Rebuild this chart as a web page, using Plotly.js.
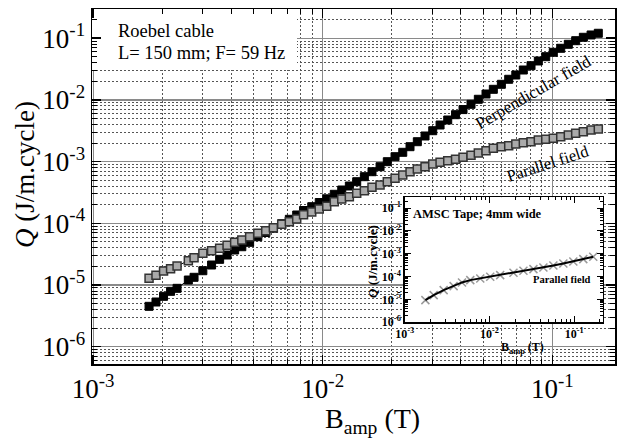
<!DOCTYPE html>
<html>
<head>
<meta charset="utf-8">
<script src="https://cdn.plot.ly/plotly-3.0.1.min.js"></script>
<style>html,body{margin:0;padding:0;background:#fff;}#chart{width:619px;height:443px;}</style>
</head>
<body>
<div id="chart"></div>
<script>
// Field amplitude B_amp (T), shared by both series
const bAmp = [1.752e-3, 1.878e-3, 2.026e-3, 2.174e-3, 2.320e-3, 2.598e-3, 2.751e-3, 3.005e-3, 3.280e-3, 3.556e-3,
  3.831e-3, 4.133e-3, 4.442e-3, 4.804e-3, 5.215e-3, 5.646e-3, 6.094e-3, 6.628e-3, 7.154e-3, 7.703e-3,
  8.249e-3, 8.956e-3, 9.656e-3, 1.041e-2, 1.123e-2, 1.210e-2, 1.306e-2, 1.406e-2, 1.518e-2, 1.639e-2,
  1.777e-2, 1.911e-2, 2.065e-2, 2.231e-2, 2.400e-2, 2.582e-2, 2.790e-2, 3.014e-2, 3.244e-2, 3.503e-2,
  3.789e-2, 4.084e-2, 4.424e-2, 4.761e-2, 5.142e-2, 5.534e-2, 5.998e-2, 6.457e-2, 6.934e-2, 7.476e-2,
  8.076e-2, 8.690e-2, 9.361e-2, 0.1010, 0.1088, 0.1174, 0.1264, 0.1365, 0.1475, 0.1586];
// Q (J/m.cycle), perpendicular field
const qPerp = [4.516e-6, 5.303e-6, 6.560e-6, 7.905e-6, 8.84e-6, 1.205e-5, 1.333e-5, 1.705e-5, 2.110e-5, 2.609e-5,
  3.063e-5, 3.692e-5, 4.175e-5, 4.922e-5, 6.065e-5, 7.094e-5, 8.360e-5, 9.85e-5, 1.161e-4, 1.363e-4,
  1.612e-4, 1.858e-4, 2.174e-4, 2.496e-4, 2.951e-4, 3.465e-4, 4.022e-4, 4.722e-4, 5.692e-4, 6.859e-4,
  8.268e-4, 9.963e-4, 1.201e-3, 1.415e-3, 1.744e-3, 2.101e-3, 2.600e-3, 3.167e-3, 3.918e-3, 4.722e-3,
  5.756e-3, 6.964e-3, 8.484e-3, 1.023e-2, 1.246e-2, 1.485e-2, 1.790e-2, 2.158e-2, 2.533e-2, 3.051e-2,
  3.583e-2, 4.271e-2, 5.013e-2, 5.908e-2, 6.860e-2, 7.963e-2, 9.110e-2, 0.1034, 0.1127, 0.1201];
// Q (J/m.cycle), parallel field
const qPar = [1.284e-5, 1.436e-5, 1.686e-5, 1.837e-5, 2.032e-5, 2.476e-5, 2.770e-5, 3.265e-5, 3.596e-5, 3.934e-5,
  4.399e-5, 4.922e-5, 5.362e-5, 6.065e-5, 6.885e-5, 7.587e-5, 8.486e-5, 9.634e-5, 1.061e-4, 1.174e-4,
  1.378e-4, 1.524e-4, 1.705e-4, 1.893e-4, 2.239e-4, 2.476e-4, 2.698e-4, 3.063e-4, 3.377e-4, 3.833e-4,
  4.175e-4, 4.722e-4, 5.362e-4, 6.065e-4, 6.859e-4, 7.587e-4, 8.268e-4, 9.143e-4, 9.743e-4, 1.034e-3,
  1.090e-3, 1.174e-3, 1.265e-3, 1.378e-3, 1.502e-3, 1.643e-3, 1.744e-3, 1.810e-3, 1.929e-3, 2.025e-3,
  2.101e-3, 2.239e-3, 2.298e-3, 2.385e-3, 2.533e-3, 2.698e-3, 2.875e-3, 3.051e-3, 3.252e-3, 3.376e-3];
// Inset: AMSC tape, parallel field
const insetB = [1.751e-3, 2.194e-3, 2.876e-3, 3.771e-3, 4.735e-3, 5.928e-3, 7.774e-3, 1.019e-2, 1.336e-2,
  1.916e-2, 2.512e-2, 3.294e-2, 4.318e-2, 5.661e-2, 7.424e-2, 9.732e-2, 0.1276, 0.1673];
const insetQ = [9.23e-6, 1.528e-5, 2.533e-5, 3.793e-5, 5.511e-5, 6.953e-5, 8.253e-5, 9.70e-5, 1.152e-4,
  1.453e-4, 1.778e-4, 2.112e-4, 2.507e-4, 3.067e-4, 3.755e-4, 4.596e-4, 5.797e-4, 7.31e-4];
// Tick labels
const xTickVals = [1e-3, 1e-2, 1e-1];
const xTickText = ['10<sup>-3</sup>', '10<sup>-2</sup>', '10<sup>-1</sup>'];
const yTickVals = [1e-6, 1e-5, 1e-4, 1e-3, 1e-2, 1e-1];
const yTickText = ['10<sup>-6</sup>', '10<sup>-5</sup>', '10<sup>-4</sup>', '10<sup>-3</sup>', '10<sup>-2</sup>', '10<sup>-1</sup>'];

function minorVals(k0, k1) {
  const v = [];
  for (let k = k0; k <= k1; k++) for (let m = 2; m <= 9; m++) v.push(m * Math.pow(10, k));
  return v;
}

const SERIF = 'Liberation Serif, Times New Roman, serif';
const xRange = [-3.005, -0.727];
const yRange = [-6.28, -0.527];

const traces = [
  {x: bAmp, y: qPerp, type: 'scatter', mode: 'lines+markers', name: 'Perpendicular field',
   line: {color: '#000', width: 1}, marker: {symbol: 'square', size: 8, color: '#000', line: {color: '#000', width: 1}},
   xaxis: 'x', yaxis: 'y'},
  {x: bAmp, y: qPar, type: 'scatter', mode: 'lines+markers', name: 'Parallel field',
   line: {color: '#000', width: 1}, marker: {symbol: 'square', size: 8, color: '#aaaaaa', line: {color: '#333', width: 1.5}},
   xaxis: 'x', yaxis: 'y'},
  {x: insetB, y: insetQ, type: 'scatter', mode: 'markers', name: 'AMSC tape',
   marker: {symbol: 'x-thin', size: 8, line: {color: '#9a9a9a', width: 1.5}}, xaxis: 'x2', yaxis: 'y2'},
  {x: insetB, y: insetQ, type: 'scatter', mode: 'lines', name: 'AMSC tape line',
   line: {color: '#000', width: 2}, xaxis: 'x2', yaxis: 'y2'}
];

const mainAxisCommon = {
  showline: true, linecolor: '#000', linewidth: 1.5, mirror: 'allticks',
  ticks: 'inside', ticklen: 9, tickwidth: 1.5, tickcolor: '#000',
  showgrid: true, gridcolor: '#8a8a8a', gridwidth: 1.3, zeroline: false,
  tickfont: {family: SERIF, size: 27, color: '#000'}
};

// white panel behind the "Roebel cable" caption (reaches from the top-left corner)
const boxRight = Math.pow(10, xRange[0] + (297 - 92) / 523 * (xRange[1] - xRange[0]));
const boxBottom = Math.pow(10, yRange[1] - (70 - 9) / 355 * (yRange[1] - yRange[0]));

const layout = {
  width: 619, height: 443,
  margin: {l: 92, r: 4, t: 9, b: 79},
  paper_bgcolor: '#fff', plot_bgcolor: '#fff',
  showlegend: false,
  font: {family: SERIF, color: '#000'},
  xaxis: Object.assign({}, mainAxisCommon, {
    type: 'log', range: xRange, domain: [0, 1], anchor: 'y',
    tickmode: 'array', tickvals: xTickVals, ticktext: xTickText,
    minor: {tickmode: 'array', tickvals: minorVals(-3, -1), ticks: 'inside', ticklen: 5, tickcolor: '#000', tickwidth: 1,
            showgrid: true, gridcolor: '#555', griddash: '2px,2px', gridwidth: 1}
  }),
  yaxis: Object.assign({}, mainAxisCommon, {
    type: 'log', range: yRange, domain: [0, 1], anchor: 'x',
    tickmode: 'array', tickvals: yTickVals, ticktext: yTickText,
    minor: {tickmode: 'array', tickvals: minorVals(-7, -1), ticks: 'inside', ticklen: 5, tickcolor: '#000', tickwidth: 1,
            showgrid: true, gridcolor: '#555', griddash: '2px,2px', gridwidth: 1}
  }),
  xaxis2: {
    type: 'log', range: [-3.0, -0.662], domain: [0.598, 0.977], anchor: 'y2',
    showline: true, linecolor: '#000', linewidth: 1.5, mirror: 'allticks',
    ticks: 'inside', ticklen: 6, tickwidth: 1, tickcolor: '#000', showgrid: false, zeroline: false,
    tickmode: 'array', tickvals: xTickVals, ticktext: xTickText,
    tickfont: {family: SERIF, size: 12, color: '#000', weight: 'bold'},
    minor: {tickmode: 'array', tickvals: minorVals(-3, -1), ticks: 'inside', ticklen: 3, tickcolor: '#000', showgrid: false}
  },
  yaxis2: {
    type: 'log', range: [-6.0, -0.518], domain: [0.118, 0.470], anchor: 'x2',
    showline: true, linecolor: '#000', linewidth: 1.5, mirror: 'allticks',
    ticks: 'inside', ticklen: 6, tickwidth: 1, tickcolor: '#000', showgrid: false, zeroline: false,
    tickmode: 'array', tickvals: yTickVals, ticktext: yTickText,
    tickfont: {family: SERIF, size: 12, color: '#000', weight: 'bold'},
    minor: {tickmode: 'array', tickvals: minorVals(-6, -1), ticks: 'inside', ticklen: 3, tickcolor: '#000', showgrid: false}
  },
  shapes: [
    {type: 'rect', layer: 'between', xref: 'x', yref: 'y',
     x0: Math.pow(10, xRange[0]), x1: boxRight, y0: boxBottom, y1: Math.pow(10, yRange[1]),
     fillcolor: '#fff', line: {width: 0}}
  ],
  annotations: [
    {text: 'Roebel cable', xref: 'paper', yref: 'paper', x: 0.046, y: 0.937, xanchor: 'left', yanchor: 'middle',
     showarrow: false, font: {family: SERIF, size: 18.5, color: '#000'}},
    {text: 'L= 150 mm; F= 59 Hz', xref: 'paper', yref: 'paper', x: 0.046, y: 0.877, xanchor: 'left', yanchor: 'middle',
     showarrow: false, font: {family: SERIF, size: 18.5, color: '#000'}},
    {text: 'Perpendicular field', xref: 'paper', yref: 'paper', x: (533 - 92) / 523, y: (364 - 92) / 355, xanchor: 'center', yanchor: 'middle',
     textangle: -30, showarrow: false, font: {family: SERIF, size: 17, color: '#000'}},
    {text: 'Parallel field', xref: 'paper', yref: 'paper', x: (548 - 92) / 523, y: (364 - 163) / 355, xanchor: 'center', yanchor: 'middle',
     textangle: -18, showarrow: false, font: {family: SERIF, size: 16.5, color: '#000'}},
    {text: 'B<sub>amp</sub> (T)', xref: 'paper', yref: 'paper', x: (372 - 92) / 523, y: (364 - 420) / 355,
     xanchor: 'center', yanchor: 'middle', showarrow: false, font: {family: SERIF, size: 28, color: '#000'}},
    {text: '<i>Q</i> (J/m.cycle)', xref: 'paper', yref: 'paper', x: (25 - 92) / 523, y: (364 - 175) / 355,
     xanchor: 'center', yanchor: 'middle', textangle: -90, showarrow: false, font: {family: SERIF, size: 27, color: '#000'}},
    {text: 'AMSC Tape; 4mm wide', xref: 'paper', yref: 'paper', x: (411 - 92) / 523, y: (364 - 214) / 355,
     xanchor: 'left', yanchor: 'middle', showarrow: false, font: {family: SERIF, size: 12.5, color: '#000', weight: 'bold'}},
    {text: 'Parallel field', xref: 'paper', yref: 'paper', x: (562 - 92) / 523, y: (364 - 279) / 355,
     xanchor: 'center', yanchor: 'middle', showarrow: false, font: {family: SERIF, size: 10.5, color: '#000', weight: 'bold'}},
    {text: 'B<sub>amp</sub> (T)', xref: 'paper', yref: 'paper', x: (522 - 92) / 523, y: (364 - 348) / 355,
     xanchor: 'center', yanchor: 'middle', showarrow: false, font: {family: SERIF, size: 12, color: '#000', weight: 'bold'}},
    {text: '<i>Q</i> (J/m.cycle)', xref: 'paper', yref: 'paper', x: (372 - 92) / 523, y: (364 - 262) / 355,
     xanchor: 'center', yanchor: 'middle', textangle: -90, showarrow: false, font: {family: SERIF, size: 13, color: '#000', weight: 'bold'}}
  ]
};

Plotly.newPlot('chart', traces, layout, {displayModeBar: false, staticPlot: true});
</script>
</body>
</html>
